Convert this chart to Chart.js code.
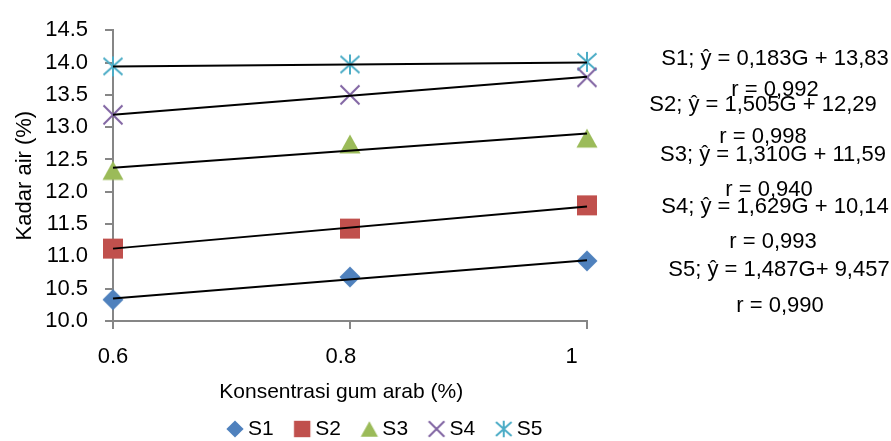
<!DOCTYPE html>
<html>
<head>
<meta charset="utf-8">
<script src="https://cdn.jsdelivr.net/npm/chart.js@4.4.1/dist/chart.umd.min.js"></script>
<style>
  html, body { margin: 0; padding: 0; background: #ffffff; }
  #wrap { width: 891px; height: 441px; }
</style>
</head>
<body>
<div id="wrap"><canvas id="c" width="891" height="441"></canvas></div>
<script>
// ---- data ----
const xValues = [0.6, 0.8, 1.0];
const xTickLabels = ["0.6", "0.8", "1"];
const yTickLabels = ["10.0", "10.5", "11.0", "11.5", "12.0", "12.5", "13.0", "13.5", "14.0", "14.5"];
const seriesNames = ["S1", "S2", "S3", "S4", "S5"];
const s1 = [10.33, 10.68, 10.93];
const s2 = [11.12, 11.43, 11.79];
const s3 = [12.33, 12.74, 12.83];
const s4 = [13.19, 13.50, 13.77];
const s5 = [13.94, 13.97, 14.01];
// trend line values at x = 0.6 and x = 1.0
const trendStart = [10.35, 11.12, 12.37, 13.19, 13.94];
const trendEnd   = [10.94, 11.77, 12.90, 13.78, 14.00];
const eqLabels = [
  "S1; \u0177 = 0,183G + 13,83",
  "S2; \u0177 = 1,505G + 12,29",
  "S3; \u0177 = 1,310G + 11,59",
  "S4; \u0177 = 1,629G + 10,14",
  "S5; \u0177 = 1,487G+ 9,457"
];
const rLabels = ["r = 0,992", "r = 0,998", "r = 0,940", "r = 0,993", "r = 0,990"];
const xTitle = "Konsentrasi gum arab (%)";
const yTitle = "Kadar air (%)";

// ---- styling ----
const FONT = '"Liberation Sans", Arial, Helvetica, sans-serif';
const colors = ["#4F81BD", "#C0504D", "#9BBB59", "#8064A2", "#4BACC6"];
const kinds = ["diamond", "square", "triangle", "x", "star"];
const AXIS = "#868686";
// small horizontal nudges of the x tick labels (trailing spaces), as in the reference
const xLabelPad = ["", "   ", "     "];

function makeMarker(kind, color, s) {
  const size = 26;
  const cv = document.createElement("canvas");
  cv.width = size; cv.height = size;
  const c = cv.getContext("2d");
  c.translate(size / 2, size / 2);
  c.fillStyle = color; c.strokeStyle = color; c.lineWidth = 2;
  c.beginPath();
  if (kind === "diamond") {
    const r = 10.5 * s;
    c.moveTo(0, -r); c.lineTo(r, 0); c.lineTo(0, r); c.lineTo(-r, 0); c.closePath(); c.fill();
  } else if (kind === "square") {
    const h = 10 * s;
    c.rect(-h, -h, 2 * h, 2 * h); c.fill();
  } else if (kind === "triangle") {
    const w = 10.5 * s, h = 19 * s;
    c.moveTo(0, -h / 2); c.lineTo(w, h / 2); c.lineTo(-w, h / 2); c.closePath(); c.fill();
  } else if (kind === "x") {
    const a = 9.5 * s;
    c.moveTo(-a, -a); c.lineTo(a, a); c.moveTo(-a, a); c.lineTo(a, -a); c.stroke();
  } else {
    const v = 10 * s, a = 9.5 * s, b = 8.5 * s;
    c.moveTo(0, -v); c.lineTo(0, v);
    c.moveTo(-a, -b); c.lineTo(a, b);
    c.moveTo(-a, b); c.lineTo(a, -b);
    c.stroke();
  }
  return cv;
}
const plotMarkers = kinds.map((k, i) => makeMarker(k, colors[i], 1));
const legendMarkers = kinds.map((k, i) => makeMarker(k, colors[i], 0.82));

const allSeries = [s1, s2, s3, s4, s5];
const datasets = [];
allSeries.forEach((vals, i) => {
  datasets.push({
    label: seriesNames[i],
    data: xValues.map((x, j) => ({ x: x, y: vals[j] })),
    pointStyle: plotMarkers[i],
    pointRadius: 10,
    pointHoverRadius: 10,
    backgroundColor: colors[i],
    borderColor: colors[i],
    showLine: false,
    clip: false,
    order: 2
  });
});
allSeries.forEach((vals, i) => {
  datasets.push({
    label: "trend " + seriesNames[i],
    data: [{ x: xValues[0], y: trendStart[i] }, { x: xValues[xValues.length - 1], y: trendEnd[i] }],
    showLine: true,
    borderColor: "#000000",
    borderWidth: 2,
    pointRadius: 0,
    pointHoverRadius: 0,
    fill: false,
    clip: false,
    order: 1
  });
});

// positions of the equation texts (layout only)
const eqPos = [[775, 59], [763, 105], [773, 155], [775, 207], [779, 270]];
const rPos  = [[775, 90], [763, 137], [769, 190], [773, 242], [780, 306]];

const annotPlugin = {
  id: "annot",
  afterDraw(chart) {
    const ctx = chart.ctx;
    ctx.save();
    ctx.fillStyle = "#000000";
    ctx.font = "22px " + FONT;
    ctx.textAlign = "center";
    ctx.textBaseline = "middle";
    eqLabels.forEach((t, i) => ctx.fillText(t, eqPos[i][0], eqPos[i][1]));
    rLabels.forEach((t, i) => ctx.fillText(t, rPos[i][0], rPos[i][1]));
    ctx.restore();
  }
};

const legendPosPlugin = {
  id: "legendPos",
  afterLayout(chart) {
    const l = chart.legend;
    if (!l) return;
    const dx = 206.5 - l.left;
    const dy = 392.5 - l.top;
    l.left += dx; l.right += dx; l.top += dy; l.bottom += dy;
  }
};

new Chart(document.getElementById("c"), {
  type: "scatter",
  data: { datasets: datasets },
  plugins: [annotPlugin, legendPosPlugin],
  options: {
    responsive: false,
    animation: false,
    devicePixelRatio: 1,
    events: [],
    layout: { padding: { top: 25, right: 304, bottom: -24, left: 0 } },
    plugins: {
      tooltip: { enabled: false },
      legend: {
        display: true,
        position: "bottom",
        align: "start",
        labels: {
          usePointStyle: true,
          boxWidth: 5,
          padding: 26,
          color: "#000000",
          font: { family: FONT, size: 21 },
          generateLabels(chart) {
            const items = Chart.defaults.plugins.legend.labels.generateLabels(chart)
              .filter(it => it.datasetIndex < seriesNames.length);
            items.forEach(it => { it.pointStyle = legendMarkers[it.datasetIndex]; it.fontColor = "#000000"; });
            return items;
          }
        }
      }
    },
    scales: {
      x: {
        type: "linear",
        min: 0.6,
        max: 1.0,
        afterFit(scale) { scale.height = 87; },
        ticks: {
          stepSize: 0.2,
          padding: 15,
          color: "#000000",
          font: { family: FONT, size: 22 },
          maxRotation: 0,
          callback: (v, i) => xTickLabels[i] + (xLabelPad[i] || "")
        },
        grid: { drawOnChartArea: false, drawTicks: true, tickLength: 8, color: AXIS, lineWidth: 2 },
        border: { display: true, color: AXIS, width: 2 },
        title: {
          display: true,
          text: xTitle + "   ",
          color: "#000000",
          font: { family: FONT, size: 21 },
          padding: { top: 10, bottom: 3 }
        }
      },
      y: {
        type: "linear",
        min: 10,
        max: 14.5,
        afterFit(scale) { scale.width = 113; },
        ticks: {
          stepSize: 0.5,
          padding: 17,
          color: "#000000",
          font: { family: FONT, size: 22 },
          callback: (v, i) => yTickLabels[i]
        },
        grid: { drawOnChartArea: false, drawTicks: true, tickLength: 8, color: AXIS, lineWidth: 2 },
        border: { display: true, color: AXIS, width: 2 },
        title: {
          display: true,
          text: yTitle,
          color: "#000000",
          font: { family: FONT, size: 22 },
          padding: { top: 12, bottom: 0 }
        }
      }
    }
  }
});
</script>
</body>
</html>
